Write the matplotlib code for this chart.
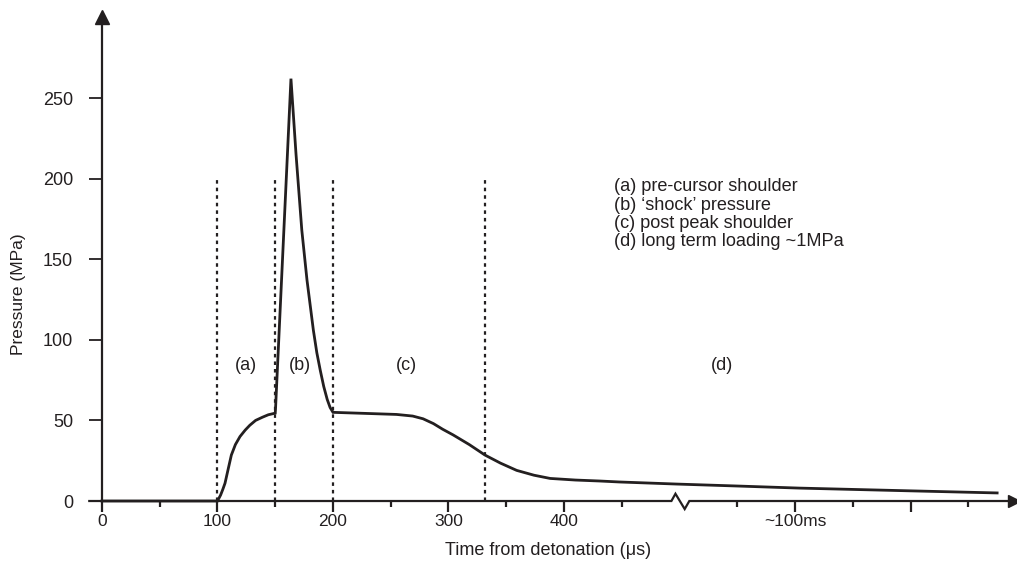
import matplotlib
matplotlib.use("Agg")
import matplotlib.pyplot as plt

plt.rcParams['font.family'] = ['Liberation Sans', 'DejaVu Sans']

# pressure trace
time_us = [0, 100, 102.7, 104.5, 106.5, 109, 112, 115.5, 119.5, 124, 128, 133, 139, 144, 150,
           150.3, 163.6, 168, 173, 177.5, 183, 186, 189, 192, 195, 197.5, 200,
           230, 255, 269, 278, 287, 295, 304, 318, 331.6, 345, 359,
           374, 388, 410, 431, 448, 498, 550, 604, 700, 775]
pressure = [0, 0, 3.7, 7, 11, 19, 28.5, 35, 40, 44, 47, 50, 52, 53.5, 54.5,
            58, 262, 215, 168, 137, 106, 92, 81, 71, 63, 58, 55,
            54.3, 53.7, 52.7, 51, 48, 44.5, 41, 35, 28.5, 23.5, 19,
            16, 14, 13, 12.4, 11.8, 10.5, 9.3, 8, 6.3, 5]

phase_bounds = [100, 150, 200, 332]
phase_labels = ['(a)', '(b)', '(c)', '(d)']
phase_label_x = [125, 171, 264, 537]

legend_lines = ['(a) pre-cursor shoulder', '(b) \u2018shock\u2019 pressure',
                '(c) post peak shoulder', '(d) long term loading ~1MPa']

xmajor = [0, 100, 200, 300, 400, 600, 700]
xmajor_labels = ['0', '100', '200', '300', '400', '~100ms', '']
xminor = [50, 150, 250, 350, 450, 550, 650, 750]
yticks = [0, 50, 100, 150, 200, 250]

ink = '#231f20'
brk = 500  # axis break position

fig = plt.figure(figsize=(10.17, 5.65), dpi=100)
ax = fig.add_axes([0, 0, 1, 1])
ax.set_xlim(-88.3, 792.2)
ax.set_ylim(-39.7, 310.8)

for s in ['top', 'right', 'bottom']:
    ax.spines[s].set_visible(False)
ax.spines['left'].set_position(('data', 0))
ax.spines['left'].set_bounds(0, 300)
ax.spines['left'].set_linewidth(1.6)
ax.spines['left'].set_color(ink)

# x axis drawn by hand so that it can carry the break
ax.plot([-11, brk - 7, brk - 3.5, brk + 4.5, brk + 8.5, 790],
        [0, 0, 4.5, -5, 0, 0], color=ink, lw=1.6, solid_joinstyle='miter', clip_on=False)
ax.plot(790, 0, marker='>', color=ink, ms=9, clip_on=False)
ax.plot(0, 300, marker='^', color=ink, ms=10, clip_on=False)

ax.set_xticks(xmajor)
ax.set_xticklabels(xmajor_labels)
ax.set_xticks(xminor, minor=True)
ax.set_yticks(yticks)
ax.xaxis.set_ticks_position('bottom')
ax.tick_params(axis='x', which='major', direction='out', length=8, width=1.6, color=ink,
               labelsize=12.5, labelcolor=ink, pad=1)
ax.tick_params(axis='x', which='minor', direction='out', length=4, width=1.6, color=ink)
ax.tick_params(axis='y', which='major', direction='out', length=9.4, width=1.3, color=ink,
               labelsize=13, labelcolor=ink, pad=11.5)
ax.spines['bottom'].set_position(('data', 0))

for xb in phase_bounds:
    ax.plot([xb, xb], [0, 200], color=ink, lw=1.6, linestyle=(0, (1.6, 1.8)))

ax.plot(time_us, pressure, color=ink, lw=2.0, solid_joinstyle='miter')

for lab, lx in zip(phase_labels, phase_label_x):
    ax.text(lx, 84, lab, ha='center', va='center', fontsize=13, color=ink)

for i, line in enumerate(legend_lines):
    ax.text(443.5, 195 - i * 11.4, line, ha='left', va='center', fontsize=13.1, color=ink)

ax.text(-72.5, 128, 'Pressure (MPa)', rotation=90, ha='center', va='center',
        fontsize=12.5, color=ink)
ax.text(386, -31, 'Time from detonation (\u03bcs)', ha='center', va='center',
        fontsize=13, color=ink)

fig.savefig('out.png', dpi=100)
